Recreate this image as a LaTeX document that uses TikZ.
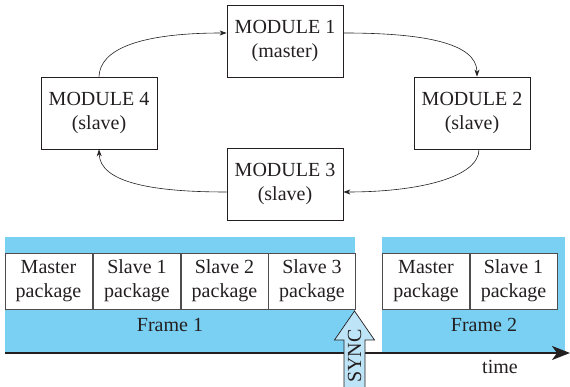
\documentclass[tikz,border=0pt]{standalone}
\usepackage{fontspec}
\setmainfont{Liberation Serif}
\usepackage{tikz}
\usetikzlibrary{arrows.meta}
\definecolor{framebg}{RGB}{122,208,243}
\definecolor{syncbg}{RGB}{190,228,247}
\definecolor{ink}{RGB}{35,31,32}

\begin{document}
\begin{tikzpicture}
  [x=1pt,y=1pt,font=\fontsize{20}{24}\selectfont,
   module/.style={shape=rectangle,draw=ink,line width=0.8pt,text=ink,
     minimum width=116pt,minimum height=72pt,align=center,inner sep=0pt},
   pkg/.style={shape=rectangle,draw=ink!80,line width=0.7pt,fill=white,text=ink,
     minimum width=87pt,minimum height=56pt,align=center,inner sep=0pt},
   link/.style={draw=ink,line width=0.6pt,-{Stealth[length=7pt,width=5pt]}}]
\useasboundingbox (0,0) rectangle (570,387);
\node[module] (m1) at (285,346) {MODULE 1\\(master)};
\node[module] (m2) at (472,274) {MODULE 2\\(slave)};
\node[module] (m3) at (285,203) {MODULE 3\\(slave)};
\node[module] (m4) at (99,274) {MODULE 4\\(slave)};
\draw[link] (m4.north) .. controls (100,338) and (140,354) .. ([yshift=8pt]m1.west);
\draw[link] ([yshift=8pt]m1.east) .. controls (420,354) and (477,345) .. ([xshift=5pt]m2.north);
\draw[link] ([xshift=7pt]m2.south) .. controls (479,210) and (420,195) .. ([yshift=-8pt]m3.east);
\draw[link] ([yshift=-8pt]m3.west) .. controls (150,195) and (100,205) .. (m4.south);
\fill[framebg] (5,34) rectangle (355,150);
\fill[framebg] (382,34) rectangle (565,150);
\foreach \n/\x/\t in {1/48.5/Master,2/137/Slave 1,3/224.5/Slave 2,4/312/Slave 3,
                      5/426/Master,6/513.5/Slave 1}
   \node[pkg] (p\n) at (\x,106) {\t\\package};
\node[text=ink] (f1) at (170,62) {Frame 1};
\node[text=ink] (f2) at (484,62) {Frame 2};
\coordinate (t0) at (5,34);
\coordinate (t1) at (570,34);
\draw[draw=ink,line width=1.6pt,-{Stealth[length=18pt,width=14pt,inset=5pt]}] (t0) -- (t1);
\node[text=ink] (tm) at (500,20) {time};
\draw[draw=ink,line width=0.7pt,fill=syncbg]
  (344,-2) -- (344,47) -- (334.5,47) -- (354.5,76) -- (374.5,47)
  -- (365,47) -- (365,-2) -- cycle;
\node[text=ink,rotate=90] (sync) at (354.5,31) {SYNC};
\end{tikzpicture}
\end{document}
